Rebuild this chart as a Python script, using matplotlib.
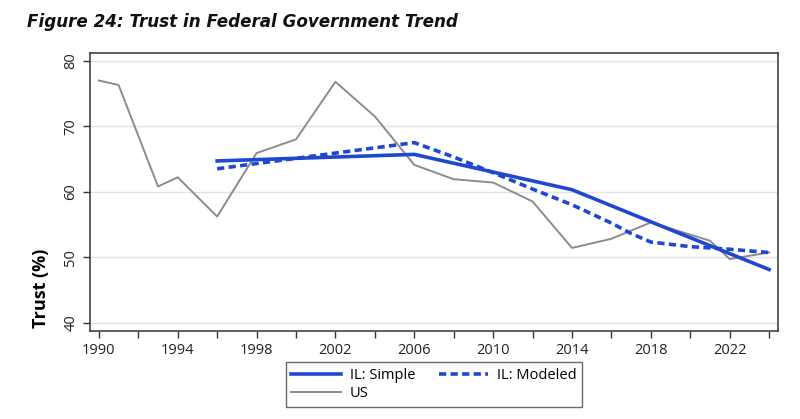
import matplotlib
matplotlib.use("Agg")
from matplotlib import pyplot as plt
from matplotlib.ticker import MultipleLocator

plt.rcParams['font.family'] = ['Open Sans', 'DejaVu Sans']

# US series
us_years = [1990, 1991, 1993, 1994, 1996, 1998, 2000, 2002, 2004, 2006,
            2008, 2010, 2012, 2014, 2016, 2018, 2021, 2022, 2024]
us_trust = [77.0, 76.3, 60.8, 62.2, 56.2, 65.9, 68.0, 76.8, 71.5, 64.1,
            61.9, 61.4, 58.5, 51.4, 52.8, 55.3, 52.5, 49.7, 50.7]

# IL simple
il_simple_years = [1996, 2006, 2014, 2018, 2024]
il_simple_trust = [64.7, 65.7, 60.3, 55.4, 48.1]

# IL modeled
il_model_years = [1996, 2006, 2008, 2010, 2012, 2014, 2016, 2017, 2018, 2020, 2022, 2024]
il_model_trust = [63.5, 67.5, 65.3, 62.9, 60.4, 58.0, 55.2, 53.6, 52.3, 51.6, 51.2, 50.7]

blue = '#1f48d1'
grey = '#8c8c8c'

fig = plt.figure(figsize=(8, 4.19), dpi=100)
ax = fig.add_axes([0.1125, 0.21, 0.86, 0.6635])

l1, = ax.plot(il_simple_years, il_simple_trust, color=blue, lw=2.6, label='IL: Simple', zorder=3)
l2, = ax.plot(il_model_years, il_model_trust, color=blue, lw=2.6, ls=(0, (2.0, 1.2)), label='IL: Modeled', zorder=3)
l3, = ax.plot(us_years, us_trust, color=grey, lw=1.4, label='US', zorder=2)

ax.set_xlim(1989.55, 2024.45)
ax.set_ylim(38.7, 81.2)
ax.set_xticks([1990, 1994, 1998, 2002, 2006, 2010, 2014, 2018, 2022])
ax.xaxis.set_minor_locator(MultipleLocator(2))
ax.set_yticks([40, 50, 60, 70, 80])
ax.tick_params(axis='x', which='both', length=5, width=1, color='#333333', labelsize=10.5, labelcolor='#222222')
ax.tick_params(axis='y', length=5, width=1, color='#333333', labelsize=10.5, labelcolor='#222222', labelrotation=90)
for lab in ax.get_yticklabels():
    lab.set_va('center')
ax.yaxis.grid(True, color='#e3e3e3', lw=1)
ax.set_axisbelow(True)
for s in ax.spines.values():
    s.set_color('#333333')
    s.set_linewidth(1.1)

ax.set_ylabel('Trust (%)', fontsize=13, fontweight='bold')
ax.yaxis.set_label_coords(-0.058, 0.155)

fig.text(0.034, 0.947, 'Figure 24: Trust in Federal Government Trend', fontsize=12.1,
         family='DejaVu Sans', fontweight='bold', fontstyle='italic',
         va='center', ha='left', color='#111111')

leg = fig.legend([l1, l3, l2], ['IL: Simple', 'US', 'IL: Modeled'],
                 loc='upper center', bbox_to_anchor=(0.5425, 0.153), ncol=2, fontsize=10.5,
                 frameon=True, fancybox=False, handlelength=3.4, handletextpad=0.6,
                 columnspacing=1.6, borderpad=0.4, labelspacing=0.2)
leg.get_frame().set_edgecolor('#444444')
leg.get_frame().set_linewidth(1)

fig.savefig('out.png', dpi=100)
